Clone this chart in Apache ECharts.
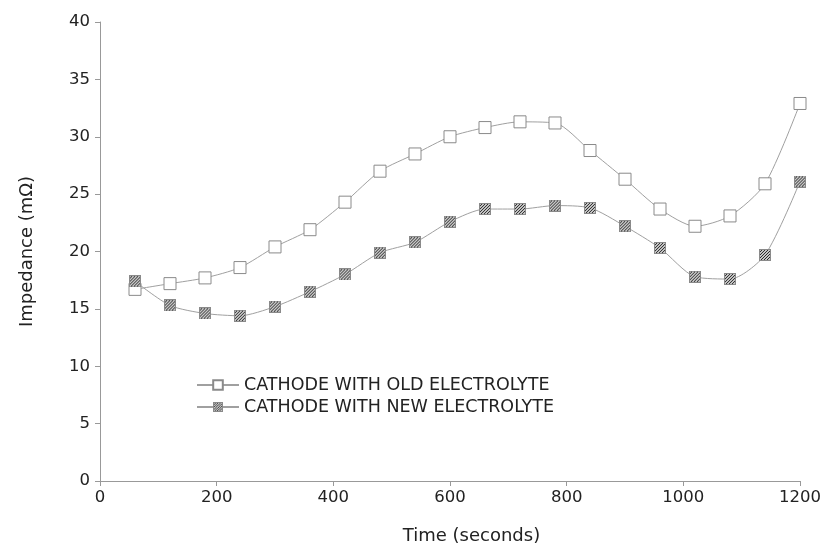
<!DOCTYPE html>
<html><head><meta charset="utf-8">
<script src="https://cdn.jsdelivr.net/npm/echarts@6/dist/echarts.min.js"></script>
<style>html,body{margin:0;padding:0;background:#fff}#c{width:830px;height:550px}</style>
</head><body><div id="c"></div>
<script>
var times = [60,120,180,240,300,360,420,480,540,600,660,720,780,840,900,960,1020,1080,1140,1200];
var oldElectrolyte = [16.7,17.2,17.7,18.6,20.4,21.9,24.3,27.0,28.5,30.0,30.8,31.3,31.2,28.8,26.3,23.7,22.2,23.1,25.9,32.9];
var newElectrolyte = [17.4,15.3,14.6,14.4,15.2,16.5,18.0,19.9,20.8,22.6,23.7,23.7,24.0,23.8,22.2,20.3,17.8,17.6,19.7,26.1];
var seriesNames = ['CATHODE WITH OLD ELECTROLYTE','CATHODE WITH NEW ELECTROLYTE'];

function pairs(xs, ys){ return xs.map(function(x,i){return [x, ys[i]];}); }

// hatched square marker image
var S = 12;
var mc = document.createElement('canvas');
mc.width = S; mc.height = S;
var g = mc.getContext('2d');
g.fillStyle = '#c6c6c6'; g.fillRect(0,0,S,S);
g.fillStyle = '#2e2e2e';
for (var y = 0; y < S; y++) {
  for (var x = 0; x < S; x++) {
    if (((x + y) % 3) === 0) g.fillRect(x, y, 1, 1);
  }
}
g.strokeStyle = '#8a8a8a'; g.lineWidth = 1;
g.strokeRect(0.5, 0.5, S - 1, S - 1);
var hatchSymbol = 'image://' + mc.toDataURL();

var font = 'DejaVu Sans';
var chart = echarts.init(document.getElementById('c'), null, {renderer:'canvas'});
chart.setOption({
  animation:false,
  backgroundColor:'#fff',
  textStyle:{fontFamily:font},
  grid:{left:100,right:30,top:22,bottom:69},
  legend:{
    orient:'vertical', left:191, top:371, itemGap:4,
    itemWidth:42, itemHeight:12,
    textStyle:{fontFamily:font, fontSize:17.5, color:'#222'},
    data:seriesNames
  },
  xAxis:{
    type:'value', min:0, max:1200, interval:200,
    name:'Time (seconds)', nameLocation:'middle', nameGap:46,
    nameTextStyle:{fontFamily:font, fontSize:18, color:'#222', padding:[0,0,0,43]},
    axisLine:{lineStyle:{color:'#999'}},
    axisTick:{show:true, length:5, lineStyle:{color:'#999'}},
    axisLabel:{fontFamily:font, fontSize:16.5, color:'#222', margin:8, formatter:function(v){return String(v);}},
    splitLine:{show:false}
  },
  yAxis:{
    type:'value', min:0, max:40, interval:5,
    name:'Impedance (m\u03A9)', nameLocation:'middle', nameGap:64,
    nameTextStyle:{fontFamily:font, fontSize:18, color:'#222'},
    axisLine:{show:true, lineStyle:{color:'#999'}},
    axisTick:{show:true, length:5, lineStyle:{color:'#999'}},
    axisLabel:{fontFamily:font, fontSize:16.5, color:'#222', margin:10},
    splitLine:{show:false}
  },
  series:[
    {
      name:seriesNames[0], type:'line', smooth:0.25,
      data:pairs(times, oldElectrolyte),
      symbol:'rect', symbolSize:12,
      lineStyle:{color:'#a0a0a0', width:1},
      itemStyle:{color:'#fff', borderColor:'#8a8a8a', borderWidth:1}
    },
    {
      name:seriesNames[1], type:'line', smooth:0.25,
      data:pairs(times, newElectrolyte),
      symbol:hatchSymbol, symbolSize:12,
      lineStyle:{color:'#a0a0a0', width:1},
      itemStyle:{color:'#777'}
    }
  ]
});
</script></body></html>
